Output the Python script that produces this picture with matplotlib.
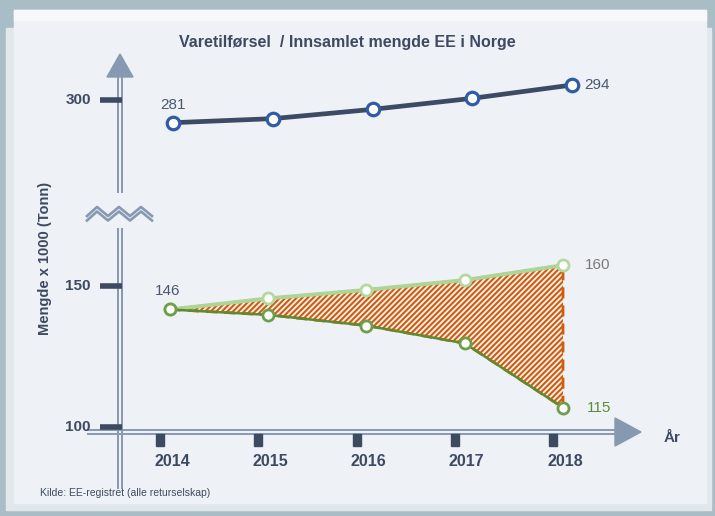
import matplotlib.pyplot as plt
import matplotlib.patches as mpatches
import matplotlib.transforms as mtransforms

W, H = 715, 516

years = [2014, 2015, 2016, 2017, 2018]
total = [281, 282.4, 285.6, 289.4, 294]
upper = [146, 149.5, 152.2, 155.3, 160]
lower = [146, 144.3, 140.9, 135.3, 115]
ytick_labels = ['300', '150', '100']

title = 'Varetilførsel  / Innsamlet mengde EE i Norge'
ylabel = 'Mengde x 1000 (Tonn)'
source = 'Kilde: EE-registret (alle returselskap)'

DARK = '#3d4a62'
AXIS = '#8798b1'

plt.rcParams['font.family'] = ['Liberation Sans', 'DejaVu Sans']
plt.rcParams['hatch.linewidth'] = 1.5


def overlay_axes(fig, xa, xp, ya, yp):
    # full-figure axes whose limits put the anchor values on the given pixels
    ax = fig.add_axes([0, 0, 1, 1])
    sx = (xp[1] - xp[0]) / (xa[1] - xa[0])
    x0 = xa[0] - xp[0] / sx
    ax.set_xlim(x0, x0 + W / sx)
    sy = (yp[1] - yp[0]) / (ya[1] - ya[0])
    ax.set_ylim(ya[0] + (H - yp[0]) / sy, ya[0] - yp[0] / sy)
    ax.axis('off')
    ax.patch.set_alpha(0)
    return ax


fig = plt.figure(figsize=(W / 100, H / 100), dpi=100, facecolor='#a9bdc7')

# background / decorations in pixel coordinates
bg = fig.add_axes([0, 0, 1, 1])
bg.set_xlim(0, W)
bg.set_ylim(H, 0)
bg.axis('off')
bg.add_patch(mpatches.Rectangle((6, 28), 705, 482, color='#e2e7eb', zorder=0))
bg.add_patch(mpatches.Rectangle((14, 10), 692, 493, color='#eef2f6', zorder=0))
bg.add_patch(mpatches.Rectangle((14, 10), 692, 10, color='#f6f8fa', zorder=0))

# y axis (double line, broken)
for x in (117.5, 122):
    bg.plot([x, x], [74, 192], color=AXIS, lw=1.4, zorder=2)
    bg.plot([x, x], [229, 488], color=AXIS, lw=1.4, zorder=2)
bg.add_patch(mpatches.Polygon([(107, 77), (133, 77), (120, 54)], color=AXIS, zorder=2))

# break zigzag
zx = [87, 97, 108, 119, 130, 141, 152]
for dy in (0, 4.5):
    zy = [v + dy for v in [216, 207, 216, 207, 216, 207, 216]]
    bg.plot(zx, zy, color=AXIS, lw=1.9, zorder=2)

# x axis (double line)
for y in (429.5, 434):
    bg.plot([88, 618], [y, y], color=AXIS, lw=1.4, zorder=2)
bg.add_patch(mpatches.Polygon([(615, 418), (615, 446), (641, 432)], color=AXIS, zorder=2))

# y ticks
for lab, y in zip(ytick_labels, [100, 286, 427]):
    bg.plot([100, 122], [y, y], color=DARK, lw=4, solid_capstyle='butt', zorder=3)
    bg.text(91, y, lab, ha='right', va='center', fontsize=11, fontweight='bold', color=DARK)

bg.text(347, 42, title, ha='center', va='center', fontsize=11.5, fontweight='bold', color=DARK)
bg.text(45, 258, ylabel, ha='center', va='center', rotation=90, fontsize=10.5,
        fontweight='bold', color=DARK)
bg.text(672, 438, 'År', ha='center', va='center', fontsize=11, fontweight='bold', color=DARK)
bg.text(40, 493, source, ha='left', va='center', fontsize=7.5, color=DARK)

# lower panel
ax_low = overlay_axes(fig, (2014, 2018), (170, 563), (146, 115), (309.5, 407.6))
ax_low.fill_between(years, lower, upper, facecolor='#f3f3f1', edgecolor='#d35b0b',
                    hatch='//////', linestyle=(0, (4, 2.5)), linewidth=2, zorder=3)
ax_low.plot(years, upper, color='#acd596', lw=2.8, marker='o', ms=8, mfc='white',
            mec='#b3d9a0', mew=2, zorder=4)
ax_low.plot(years, lower, color='#5b8c32', lw=1.8, marker='o', ms=8, mfc='white',
            mec='#6e9e4c', mew=2, zorder=4)
ax_low.text(years[0] - 0.02, upper[0] + 6, f'{upper[0]:.0f}', ha='center', va='center',
            fontsize=11, color='#4a5870')
ax_low.text(years[-1] + 0.35, upper[-1], f'{upper[-1]:.0f}', ha='center', va='center',
            fontsize=11, color='#7a7a7a')
ax_low.text(years[-1] + 0.37, lower[-1], f'{lower[-1]:.0f}', ha='center', va='center',
            fontsize=11, color='#5e8a3c')

# year ticks and labels
tr = mtransforms.blended_transform_factory(ax_low.transData, bg.transData)
for yr in years:
    ax_low.add_patch(mpatches.Rectangle((yr - 0.14, 434), 0.08, 12, color=DARK,
                                        transform=tr, zorder=3))
    ax_low.text(yr + 0.02, 462, str(yr), transform=tr, ha='center', va='center',
                fontsize=11.5, fontweight='bold', color=DARK)

# upper panel
ax_top = overlay_axes(fig, (2014, 2018), (173, 572), (281, 294), (122.7, 85))
ax_top.plot(years, total, color='#3d4a63', lw=3.4, marker='o', ms=9, mfc='white',
            mec='#2f5ba8', mew=2.3, zorder=4)
ax_top.text(years[0], total[0] + 6, f'{total[0]:.0f}', ha='center', va='center',
            fontsize=11, color='#4a5870')
ax_top.text(years[-1] + 0.25, total[-1], f'{total[-1]:.0f}', ha='center', va='center',
            fontsize=11, color='#4a5870')

fig.savefig('out.png', dpi=100, facecolor=fig.get_facecolor())
